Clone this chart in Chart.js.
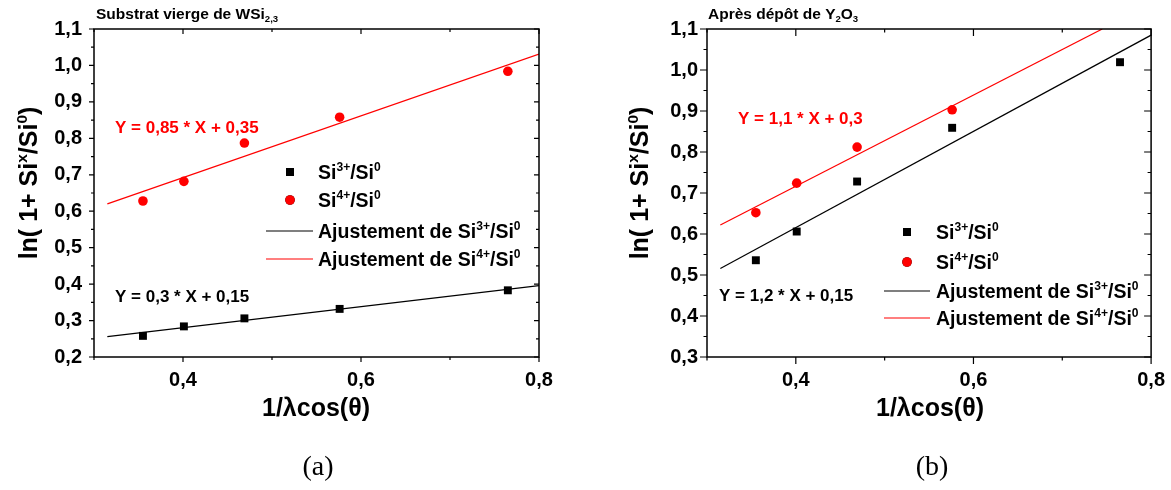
<!DOCTYPE html>
<html>
<head>
<meta charset="utf-8">
<script src="https://cdn.jsdelivr.net/npm/chart.js@4"></script>
<style>
body { margin: 0; background: #fff; width: 1171px; height: 490px; overflow: hidden; position: relative; }
canvas { position: absolute; top: 0; }
#chart_a { left: 0; }
#chart_b { left: 590px; }
</style>
</head>
<body>
<canvas id="chart_a" width="590" height="490"></canvas>
<canvas id="chart_b" width="581" height="490"></canvas>
<script>
// x = 1/lambda cos(theta), same angles for both samples
const x_vals = [0.355, 0.401, 0.469, 0.576, 0.765]

// (a) substrat vierge
const a_si3 = [0.258, 0.284, 0.306, 0.332, 0.383]
const a_si4 = [0.628, 0.682, 0.787, 0.858, 0.984]
const a_fit_x = [0.315, 0.8]
const a_fit3 = [0.256, 0.396]
const a_fit4 = [0.62, 1.031]

// (b) apres depot de Y2O3
const b_si3 = [0.536, 0.606, 0.728, 0.859, 1.019]
const b_si4 = [0.652, 0.724, 0.812, 0.903]
const b_fit3_x = [0.315, 0.8]
const b_fit3 = [0.516, 1.085]
const b_fit4_x = [0.315, 0.745]
const b_fit4 = [0.622, 1.1]

const FONT = "'Liberation Sans', Arial, sans-serif"
Chart.defaults.font.family = FONT
Chart.defaults.color = '#000'

function pts(xs, ys) {
    return ys.map((y, i) => ({ x: xs[i], y: y }))
}

function seg_font(level, size) {
    let s = level === 0 ? size : size * 0.62
    return `bold ${s}px ${FONT}`
}

// draws text pieces, level 1 = superscript, -1 = subscript
function draw_rich(ctx, segs, x, y, size, color, align) {
    let w = 0
    segs.forEach(s => { ctx.font = seg_font(s[1], size); w += ctx.measureText(s[0]).width })
    let cx = align === 'center' ? x - w / 2 : x
    ctx.fillStyle = color
    ctx.textAlign = 'left'
    ctx.textBaseline = 'alphabetic'
    segs.forEach(s => {
        ctx.font = seg_font(s[1], size)
        let dy = s[1] === 1 ? -size * 0.42 : (s[1] === -1 ? size * 0.22 : 0)
        ctx.fillText(s[0], cx, y + dy)
        cx += ctx.measureText(s[0]).width
    })
}

const decor_plugin = {
    id: 'decor',
    afterDraw(chart, args, opts) {
        const ctx = chart.ctx
        const a = chart.chartArea
        const xs = chart.scales.x
        const ys = chart.scales.y
        ctx.save()

        // frame
        ctx.strokeStyle = '#000'
        ctx.lineWidth = 1.5
        ctx.strokeRect(a.left, a.top, a.right - a.left, a.bottom - a.top)

        // ticks: out on left/bottom, in on top/right
        ctx.lineWidth = 1.2
        const major = opts.tick_major, minor = opts.tick_minor
        ctx.beginPath()
        ys.ticks.forEach((t, i) => {
            let py = ys.getPixelForValue(t.value)
            ctx.moveTo(a.left - major, py); ctx.lineTo(a.left, py)
            ctx.moveTo(a.right - major, py); ctx.lineTo(a.right, py)
            if (i < ys.ticks.length - 1) {
                let my = ys.getPixelForValue((t.value + ys.ticks[i + 1].value) / 2)
                ctx.moveTo(a.left - minor, my); ctx.lineTo(a.left, my)
                ctx.moveTo(a.right - minor, my); ctx.lineTo(a.right, my)
            }
        })
        xs.ticks.forEach(t => {
            let px = xs.getPixelForValue(t.value)
            let len = t.label ? major : minor
            ctx.moveTo(px, a.bottom); ctx.lineTo(px, a.bottom + len)
            ctx.moveTo(px, a.top); ctx.lineTo(px, a.top + len)
        })
        ctx.stroke()

        // titles and equations
        draw_rich(ctx, opts.title, opts.title_x, opts.title_y, 15.5, '#000', 'left')
        opts.notes.forEach(n => draw_rich(ctx, n.segs, n.x, n.y, n.size, n.color, 'left'))

        // legend
        const lg = opts.legend
        lg.items.forEach((item, i) => {
            const ds = chart.data.datasets[item.ds]
            const ry = lg.rows[i]
            if (ds.showLine) {
                ctx.strokeStyle = ds.borderColor
                ctx.lineWidth = 1.2
                ctx.beginPath()
                ctx.moveTo(lg.line_x0, ry); ctx.lineTo(lg.line_x1, ry)
                ctx.stroke()
            } else {
                Chart.helpers.drawPoint(ctx, {
                    pointStyle: ds.pointStyle, radius: ds.pointRadius,
                    borderWidth: 0, rotation: 0
                }, lg.marker_x, ry)
                ctx.fillStyle = ds.backgroundColor
                ctx.fill()
            }
            draw_rich(ctx, item.label, lg.text_x, ry + 7, 19.5, '#000', 'left')
        })

        // axis titles
        ctx.save()
        ctx.translate(opts.ytitle_x, opts.ytitle_y)
        ctx.rotate(-Math.PI / 2)
        draw_rich(ctx, [['ln( 1+ Si', 0], ['x', 1], ['/Si', 0], ['0', 1], [')', 0]], 0, 0, 25, '#000', 'center')
        ctx.restore()
        draw_rich(ctx, [['1/\u03bbcos(\u03b8)', 0]], opts.xtitle_x, opts.xtitle_y, 25, '#000', 'center')

        // panel tag
        ctx.font = `28px 'Liberation Serif', 'DejaVu Serif', serif`
        ctx.fillStyle = '#000'
        ctx.textAlign = 'center'
        ctx.fillText(opts.tag, opts.tag_x, opts.tag_y)
        ctx.restore()
    }
}

const si3_label = [['Si', 0], ['3+', 1], ['/Si', 0], ['0', 1]]
const si4_label = [['Si', 0], ['4+', 1], ['/Si', 0], ['0', 1]]
const fit3_label = [['Ajustement de Si', 0], ['3+', 1], ['/Si', 0], ['0', 1]]
const fit4_label = [['Ajustement de Si', 0], ['4+', 1], ['/Si', 0], ['0', 1]]

function make_chart(id, p) {
    return new Chart(document.getElementById(id), {
        type: 'scatter',
        data: {
            datasets: [
                { label: 'Si3+/Si0', data: p.si3, pointStyle: 'rect', pointRadius: 5.6,
                  backgroundColor: '#000', borderWidth: 0, order: 1 },
                { label: 'Si4+/Si0', data: p.si4, pointStyle: 'circle', pointRadius: 4.8,
                  backgroundColor: '#ff0000', borderWidth: 0, order: 0 },
                { label: 'Ajustement de Si3+/Si0', data: p.fit3, showLine: true, pointRadius: 0,
                  borderColor: '#000', borderWidth: 1.2, order: 3 },
                { label: 'Ajustement de Si4+/Si0', data: p.fit4, showLine: true, pointRadius: 0,
                  borderColor: '#ff0000', borderWidth: 1.2, order: 2 }
            ]
        },
        options: {
            responsive: false,
            animation: false,
            events: [],
            layout: { padding: { left: 0, top: 29, right: p.pad_right, bottom: 93 } },
            scales: {
                x: {
                    min: 0.3, max: 0.8,
                    grid: { display: false, drawTicks: true, tickLength: 5 },
                    border: { display: false },
                    afterFit: s => { s.height = 40 },
                    ticks: {
                        stepSize: 0.1, autoSkip: false, maxRotation: 0, padding: 6,
                        font: { size: 20, weight: 'bold' },
                        callback: v => Math.round(v * 10) % 2 === 0 ? v.toFixed(1).replace('.', ',') : ''
                    }
                },
                y: {
                    min: p.ymin, max: 1.1,
                    grid: { display: false, drawTicks: true, tickLength: p.tick_major },
                    border: { display: false },
                    afterFit: s => { s.width = p.yaxis_w },
                    ticks: {
                        stepSize: 0.1, padding: p.ytick_pad,
                        font: { size: 20, weight: 'bold' },
                        callback: v => v.toFixed(1).replace('.', ',')
                    }
                }
            },
            plugins: {
                legend: { display: false },
                tooltip: { enabled: false },
                decor: p.decor
            }
        },
        plugins: [decor_plugin]
    })
}

make_chart('chart_a', {
    si3: pts(x_vals, a_si3),
    si4: pts(x_vals, a_si4),
    fit3: pts(a_fit_x, a_fit3),
    fit4: pts(a_fit_x, a_fit4),
    ymin: 0.2, pad_right: 51, yaxis_w: 94, tick_major: 5, ytick_pad: 7,
    decor: {
        tick_major: 5, tick_minor: 3,
        title: [['Substrat vierge de WSi', 0], ['2,3', -1]], title_x: 96, title_y: 19,
        notes: [
            { segs: [['Y = 0,85 * X + 0,35', 0]], x: 115, y: 133, size: 17, color: '#ff0000' },
            { segs: [['Y = 0,3 * X + 0,15', 0]], x: 115, y: 302, size: 17, color: '#000' }
        ],
        legend: {
            marker_x: 290, line_x0: 266, line_x1: 313, text_x: 318,
            rows: [172, 200, 231, 259],
            items: [{ ds: 0, label: si3_label }, { ds: 1, label: si4_label },
                    { ds: 2, label: fit3_label }, { ds: 3, label: fit4_label }]
        },
        ytitle_x: 37, ytitle_y: 183,
        xtitle_x: 316, xtitle_y: 416,
        tag: '(a)', tag_x: 318, tag_y: 475
    }
})

make_chart('chart_b', {
    si3: pts(x_vals, b_si3),
    si4: pts(x_vals, b_si4),
    fit3: pts(b_fit3_x, b_fit3),
    fit4: pts(b_fit4_x, b_fit4),
    ymin: 0.3, pad_right: 18, yaxis_w: 117, tick_major: 7, ytick_pad: 2,
    decor: {
        tick_major: 7, tick_minor: 3.5,
        title: [['Après dépôt de Y', 0], ['2', -1], ['O', 0], ['3', -1]], title_x: 118, title_y: 19,
        notes: [
            { segs: [['Y = 1,1 * X + 0,3', 0]], x: 148, y: 124, size: 17, color: '#ff0000' },
            { segs: [['Y = 1,2 * X + 0,15', 0]], x: 129, y: 301, size: 17, color: '#000' }
        ],
        legend: {
            marker_x: 317, line_x0: 294, line_x1: 340, text_x: 346,
            rows: [232, 262, 291, 318],
            items: [{ ds: 0, label: si3_label }, { ds: 1, label: si4_label },
                    { ds: 2, label: fit3_label }, { ds: 3, label: fit4_label }]
        },
        ytitle_x: 58, ytitle_y: 183,
        xtitle_x: 340, xtitle_y: 416,
        tag: '(b)', tag_x: 342, tag_y: 475
    }
})
</script>
</body>
</html>
